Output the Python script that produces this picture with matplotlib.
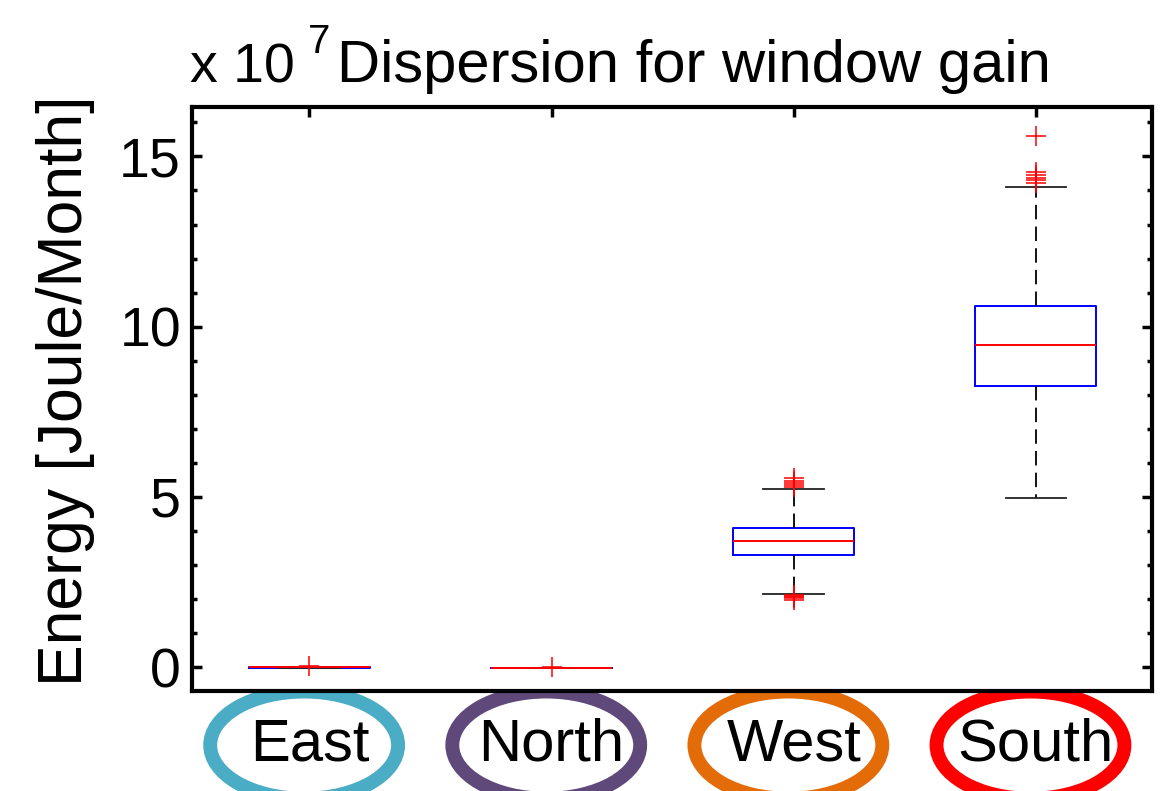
import matplotlib
matplotlib.use("Agg")
import matplotlib.pyplot as plt
from matplotlib.patches import Ellipse
from matplotlib.ticker import MultipleLocator
from matplotlib.transforms import blended_transform_factory

plt.rcParams['font.family'] = ['Liberation Sans', 'DejaVu Sans']

# monthly window gain per facade, in units of 1e7 J
orientations = ['East', 'North', 'West', 'South']
ring_colors = ['#4BACC6', '#5F497A', '#E36C09', '#FF0000']

q1 = [-0.01, -0.02, 3.29, 8.26]
median = [0.0, -0.02, 3.71, 9.47]
q3 = [0.01, -0.02, 4.09, 10.62]
whisker_lo = [-0.01, -0.02, 2.15, 4.97]
whisker_hi = [0.01, -0.02, 5.23, 14.09]
outliers = [
    [0.03],
    [0.0],
    [1.98, 2.03, 2.07, 2.10, 2.12, 5.30, 5.36, 5.42, 5.47, 5.57],
    [14.22, 14.30, 14.38, 14.46, 14.54, 15.59],
]
exponent = 7

stats = []
for i, name in enumerate(orientations):
    stats.append(dict(label=name, q1=q1[i], med=median[i], q3=q3[i],
                      whislo=whisker_lo[i], whishi=whisker_hi[i],
                      fliers=outliers[i]))

fig = plt.figure(figsize=(11.66, 7.91), dpi=100)
ax = fig.add_axes([0.1647, 0.1264, 0.8233, 0.7383])

pos = [1, 2, 3, 4]
ax.bxp(stats, positions=pos, widths=0.5,
       boxprops=dict(color='#0000FF', linewidth=1.4),
       medianprops=dict(color='#FF0000', linewidth=1.4),
       whiskerprops=dict(color='black', linewidth=1.3, linestyle=(0, (8, 4))),
       capprops=dict(color='#222222', linewidth=1.3),
       flierprops=dict(marker='+', markeredgecolor='#FF0000',
                       markersize=14, markeredgewidth=1.1, linestyle='none'))

ax.set_xlim(0.515, 4.48)
ax.set_ylim(-0.7, 16.45)
ax.set_yticks([0, 5, 10, 15])
ax.yaxis.set_minor_locator(MultipleLocator(1))
ax.set_xticks(pos)
ax.set_xticklabels(orientations, fontsize=43)

for sp in ax.spines.values():
    sp.set_linewidth(3)
ax.tick_params(axis='y', which='major', direction='in', left=True, right=True,
               length=7, width=2.5, labelsize=40, pad=8)
ax.tick_params(axis='y', which='minor', direction='in', left=True, right=True,
               length=3.6, width=2.5)
ax.tick_params(axis='x', which='major', direction='in', bottom=False, top=True,
               length=7, width=2.5, labelbottom=True, pad=19)

ax.set_ylabel('Energy [Joule/Month]', fontsize=45)
ax.yaxis.set_label_coords(-0.101, 0.515)

ax.set_title('Dispersion for window gain', fontsize=43, x=0.523, pad=18)
ax.text(-0.002, 1.0428, 'x 10', transform=ax.transAxes, fontsize=40,
        ha='left', va='baseline')
ax.text(0.121, 1.0925, str(exponent), transform=ax.transAxes, fontsize=29,
        ha='left', va='baseline')

# coloured rings around the category names
trans = blended_transform_factory(ax.transData, fig.transFigure)
for p, c in zip(pos, ring_colors):
    ring = Ellipse((p - 0.022, 0.058), 0.776, 0.1355, transform=trans,
                   facecolor='none', edgecolor=c, linewidth=10, zorder=-1)
    fig.add_artist(ring)

fig.savefig('out.png', dpi=100)
